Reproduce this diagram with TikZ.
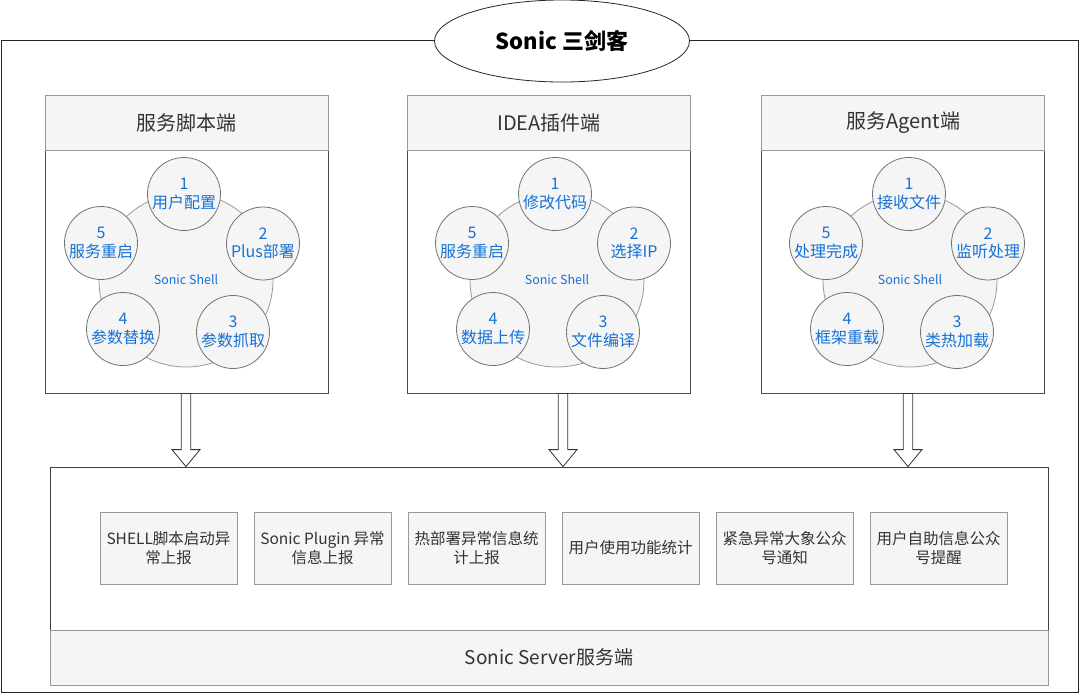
\documentclass[tikz,border=0pt]{standalone}
\usepackage{fontspec}
\setmainfont{Noto Sans CJK SC}
\usetikzlibrary{calc,positioning,shapes.geometric}

\definecolor{fillgray}{HTML}{F5F5F5}
\definecolor{linegray}{HTML}{999999}
\definecolor{stepblue}{HTML}{1672D6}
\definecolor{textgray}{HTML}{333333}

\begin{document}
\begin{tikzpicture}[x=1pt, y=-1pt, line width=0.8pt,
    frame/.style={draw=black!85, line width=1pt, minimum width=1077pt, minimum height=652pt},
    title/.style={ellipse, draw=black!85, fill=white, minimum width=255pt, minimum height=82pt,
        font=\fontsize{22}{26}\selectfont\bfseries},
    body/.style={draw=black!70, minimum width=283pt, minimum height=298pt},
    head/.style={draw=linegray, fill=fillgray, minimum width=283pt, minimum height=55pt,
        text=textgray, font=\fontsize{20}{24}\selectfont},
    shell/.style={circle, draw=linegray, fill=fillgray, minimum size=174pt, inner sep=0pt,
        text=stepblue, font=\fontsize{12.5}{15}\selectfont},
    stepc/.style={circle, draw=black!55, fill=fillgray, minimum size=73pt, inner sep=0pt,
        align=center, text=stepblue, font=\fontsize{16}{18.5}\selectfont},
    item/.style={draw=linegray, fill=fillgray, minimum width=137pt, minimum height=72pt,
        inner sep=0pt, align=center, text=textgray, font=\fontsize{15.5}{19}\selectfont},
    fat/.style={draw=black!80, fill=white, line width=0.8pt,
        to path={let \p1=(\tikztostart), \p2=(\tikztotarget) in
            (\x1-4.75pt,\y1) -- (\x1-4.75pt,\y2+17pt) -- (\x1-14pt,\y2+17pt) -- (\x1,\y2)
            -- (\x1+14pt,\y2+17pt) -- (\x1+4.75pt,\y2+17pt) -- (\x1+4.75pt,\y1) -- cycle}}]

    \useasboundingbox (0,0) rectangle (1080,694);

    % outer frame and title
    \node[frame] (all) at (539.5,366) {};
    \node[title] (tt) at (562,41) {Sonic 三剑客};

    % three clients
    \node[body] (Lb) at (186.5,244) {};
    \node[head, anchor=north] (Lh) at (Lb.north) {服务脚本端};
    \node[body] (Mb) at (549,244) {};
    \node[head, anchor=north] (Mh) at (Mb.north) {IDEA插件端};
    \node[body] (Rb) at (903,244) {};
    \node[head, anchor=north] (Rh) at (Rb.north) {服务Agent端};

    \node[shell] (Ls) at (186,280) {Sonic Shell};
    \node[shell] (Ms) at (557,280) {Sonic Shell};
    \node[shell] (Rs) at (910,280) {Sonic Shell};

    \foreach \i/\dx/\y/\t in {1/0/194/用户配置, 2/79/243.5/Plus部署, 3/49/332/参数抓取,
        4/-61/329/参数替换, 5/-83/243/服务重启}
        \node[stepc] (L\i) at ({184+(\dx)},\y) {\i\\\t};
    \foreach \i/\dx/\y/\t in {1/0/194/修改代码, 2/79/243.5/选择IP, 3/48/332/文件编译,
        4/-62/329/数据上传, 5/-83/243/服务重启}
        \node[stepc] (M\i) at ({555+(\dx)},\y) {\i\\\t};
    \foreach \i/\dx/\y/\t in {1/0/194/接收文件, 2/79/243.5/监听处理, 3/48/332/类热加载,
        4/-62/329/框架重载, 5/-83/243/处理完成}
        \node[stepc] (R\i) at ({909+(\dx)},\y) {\i\\\t};

    % server
    \node[draw=black!75, minimum width=998pt, minimum height=218pt] (srv) at (549,576) {};
    \node[head, anchor=south, minimum width=998pt, font=\fontsize{19}{23}\selectfont]
        (srvft) at (srv.south) {Sonic Server服务端};

    \node[item] (s1) at (168.5,548) {SHELL脚本启动异\\常上报};
    \node[item, right=16.2pt of s1] (s2) {Sonic Plugin 异常\\信息上报};
    \node[item, right=16.2pt of s2] (s3) {热部署异常信息统\\计上报};
    \node[item, right=16.2pt of s3] (s4) {用户使用功能统计};
    \node[item, right=16.2pt of s4] (s5) {紧急异常大象公众\\号通知};
    \node[item, right=16.2pt of s5] (s6) {用户自助信息公众\\号提醒};

    % report arrows
    \draw[fat] (Lb.south -| Ls) to (srv.north -| Ls);
    \draw[fat] ([xshift=6pt]Mb.south -| Ms) to ([xshift=6pt]srv.north -| Ms);
    \draw[fat] ([xshift=-2pt]Rb.south -| Rs) to ([xshift=-2pt]srv.north -| Rs);
\end{tikzpicture}
\end{document}
